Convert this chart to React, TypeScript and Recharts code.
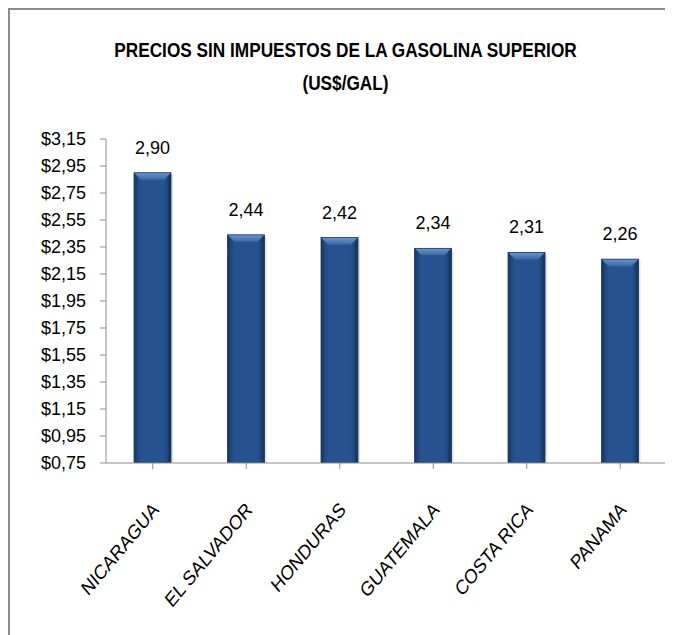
import React from "react";
import { Bar, BarChart, LabelList, XAxis, YAxis } from "recharts";

const COUNTRIES = ["NICARAGUA", "EL SALVADOR", "HONDURAS", "GUATEMALA", "COSTA RICA", "PANAMA"];
const PRICES = [2.9, 2.44, 2.42, 2.34, 2.31, 2.26];
const Y_TICKS = [0.75, 0.95, 1.15, 1.35, 1.55, 1.75, 1.95, 2.15, 2.35, 2.55, 2.75, 2.95, 3.15];
const TITLE = ["PRECIOS SIN IMPUESTOS DE LA GASOLINA SUPERIOR", "(US$/GAL)"];

// no narrow font installed; Liberation Sans gets squeezed where it matters
const FONT = '"Liberation Sans", Arial, sans-serif';
const AXIS_GREY = "#8c8c8c";

const data = COUNTRIES.map((name, i) => ({ name, price: PRICES[i] }));

const comma = (v: number) => v.toFixed(2).replace(".", ",");

/* Excel's "bevel" bar: dark edges, lighter ridge along the top. */
function BevelBar(props: any) {
  const { x, y, width, height } = props;
  if (!height || height <= 0) return null;
  const b = Math.min(7, height / 2);
  const s = 3;
  return (
    <g>
      <rect x={x + 2} y={y + 2} width={width} height={height - 2} fill="#000" opacity={0.12} />
      <rect x={x} y={y} width={width} height={height} fill="url(#bar-body)" />
      <polygon
        points={`${x},${y} ${x + width},${y} ${x + width - b},${y + b} ${x + b},${y + b}`}
        fill="url(#bar-top)"
      />
      <polygon points={`${x},${y} ${x + s},${y + s} ${x + s},${y + height} ${x},${y + height}`} fill="#18365f" opacity={0.55} />
      <polygon
        points={`${x + width},${y} ${x + width - s},${y + s} ${x + width - s},${y + height} ${x + width},${y + height}`}
        fill="#16325a"
        opacity={0.6}
      />
      <rect x={x} y={y} width={width} height={height} fill="none" stroke="#1b3a66" strokeWidth={0.8} />
    </g>
  );
}

/* The source picture is stretched vertically, so the 45° labels read steeper. */
function CountryTick({ x, y, payload }: any) {
  return (
    <text
      transform={`translate(${x + 7},${y + 40}) scale(1,1.2) rotate(-45)`}
      textAnchor="end"
      fontFamily={FONT}
      fontSize={17}
      fill="#000"
    >
      {payload.value}
    </text>
  );
}

export default function App() {
  return (
    <div style={{ position: "relative", width: 665, height: 627, background: "#fff" }}>
      <div style={{ position: "absolute", left: 0, top: 0, width: 2, height: 627, background: AXIS_GREY }} />
      <div style={{ position: "absolute", left: 0, top: 0, width: 665, height: 2, background: AXIS_GREY }} />
      <div
        style={{
          position: "absolute",
          left: 0,
          width: 675,
          top: 25,
          textAlign: "center",
          fontFamily: FONT,
          fontWeight: 700,
          fontSize: 21,
          lineHeight: "33px",
          color: "#000",
          transform: "scaleX(0.82)",
        }}
      >
        <div>{TITLE[0]}</div>
        <div>{TITLE[1]}</div>
      </div>
      <BarChart
        width={665}
        height={627}
        data={data}
        margin={{ top: 131, right: 6, bottom: 0, left: 0 }}
        barSize={37}
      >
        <defs>
          <linearGradient id="bar-body" x1="0" y1="0" x2="1" y2="0">
            <stop offset="0%" stopColor="#1e4272" />
            <stop offset="20%" stopColor="#26528f" />
            <stop offset="80%" stopColor="#26528f" />
            <stop offset="100%" stopColor="#1c3d6b" />
          </linearGradient>
          <linearGradient id="bar-top" x1="0" y1="0" x2="0" y2="1">
            <stop offset="0%" stopColor="#6d95c8" />
            <stop offset="100%" stopColor="#3a67a6" />
          </linearGradient>
        </defs>
        <XAxis
          dataKey="name"
          height={172}
          interval={0}
          tick={<CountryTick />}
          axisLine={{ stroke: AXIS_GREY }}
          tickLine={{ stroke: AXIS_GREY }}
          tickSize={6}
        />
        <YAxis
          width={98}
          domain={[0.75, 3.15]}
          ticks={Y_TICKS}
          interval={0}
          allowDataOverflow
          tickFormatter={(v: number) => "$" + comma(v)}
          tick={{ fontFamily: FONT, fontSize: 18, fill: "#000" }}
          axisLine={{ stroke: AXIS_GREY }}
          tickLine={{ stroke: AXIS_GREY }}
          tickSize={6}
          tickMargin={14}
        />
        <Bar dataKey="price" shape={<BevelBar />} isAnimationActive={false}>
          <LabelList
            dataKey="price"
            position="top"
            offset={19}
            formatter={(v: number) => comma(v)}
            style={{ fontFamily: FONT, fontSize: 18, fill: "#000" }}
          />
        </Bar>
      </BarChart>
    </div>
  );
}
